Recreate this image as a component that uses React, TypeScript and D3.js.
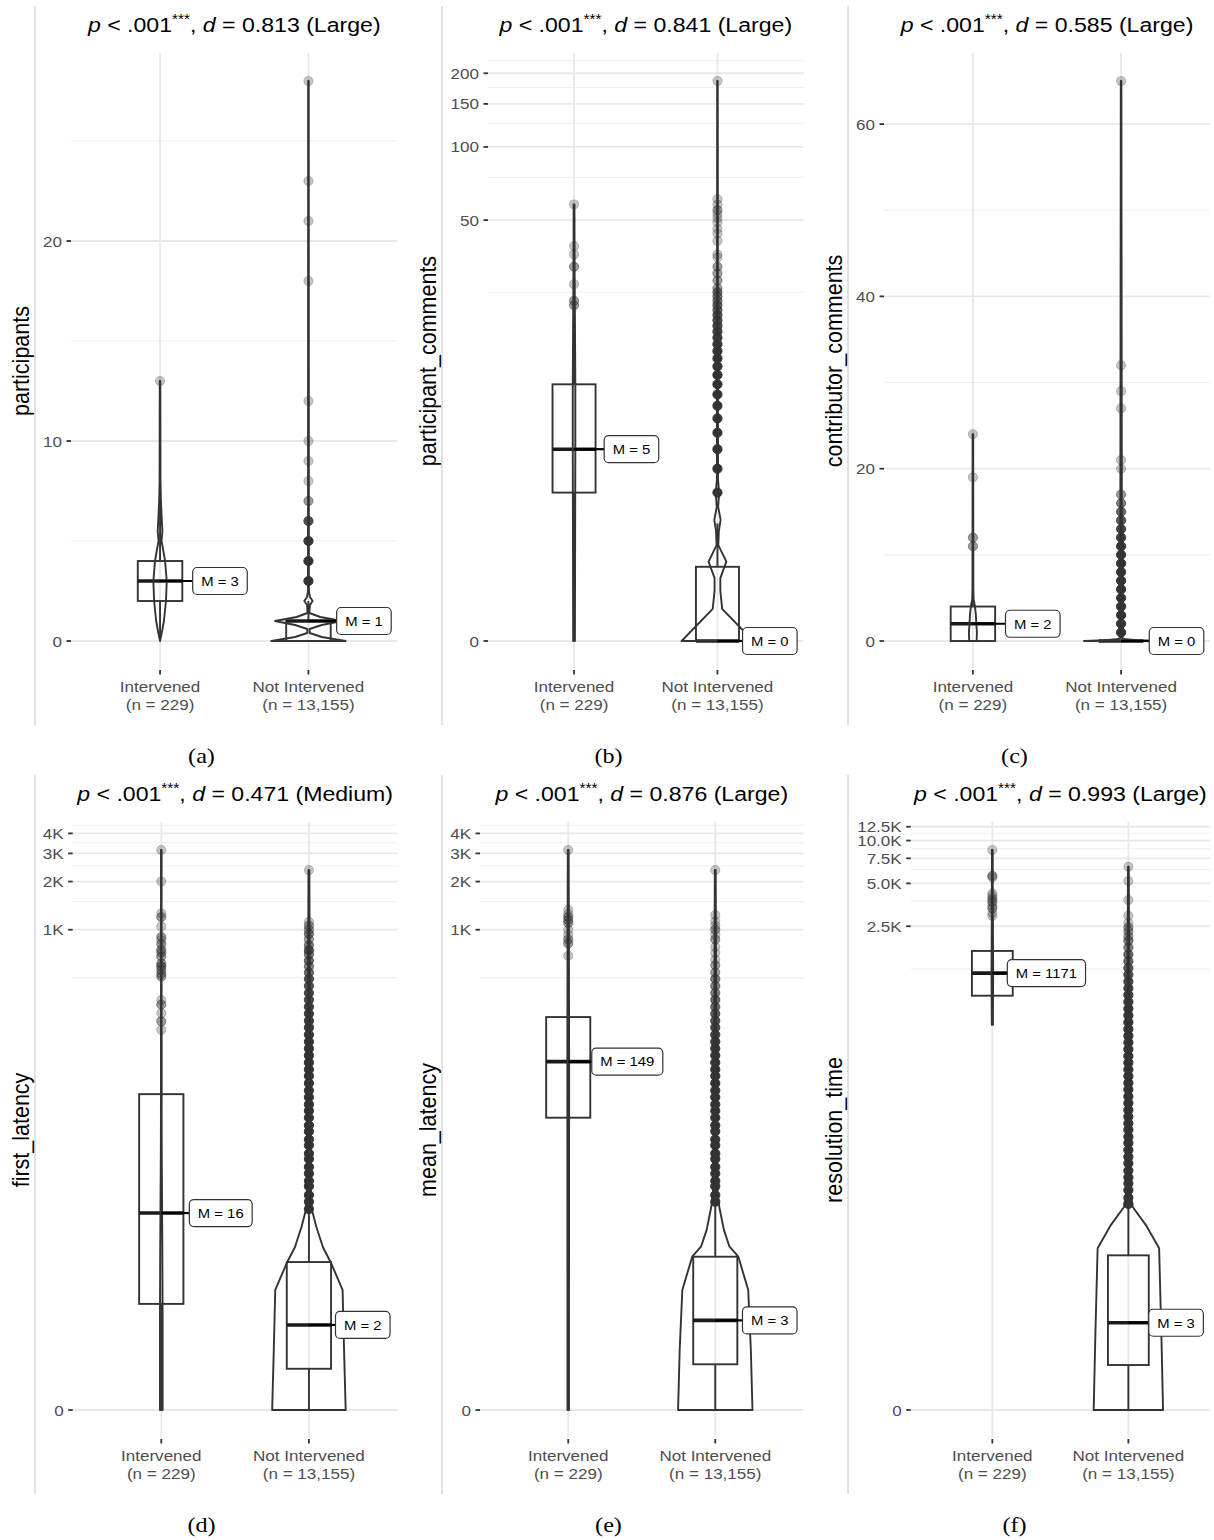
import React, { useEffect, useRef } from "react";
import * as d3 from "d3";

type Pair = [number, number];

const W = 1214;
const H = 1540;

// ---- data ----
const categories = ["Intervened", "Not Intervened"];
const groupSizes = ["(n = 229)", "(n = 13,155)"];
const measures = [
  "participants",
  "participant_comments",
  "contributor_comments",
  "first_latency",
  "mean_latency",
  "resolution_time",
];
const cohensD = ["0.813", "0.841", "0.585", "0.471", "0.876", "0.993"];
const effectSizes = ["Large", "Large", "Large", "Medium", "Large", "Large"];
const panelTags = ["(a)", "(b)", "(c)", "(d)", "(e)", "(f)"];
const scaleTypes = ["linear", "log1p", "linear", "log1p", "log1p", "log1p"];

const majorTicks = [
  [0, 10, 20],
  [0, 50, 100, 150, 200],
  [0, 20, 40, 60],
  [0, 1000, 2000, 3000, 4000],
  [0, 1000, 2000, 3000, 4000],
  [0, 2500, 5000, 7500, 10000, 12500],
];
const majorTickLabels = [
  ["0", "10", "20"],
  ["0", "50", "100", "150", "200"],
  ["0", "20", "40", "60"],
  ["0", "1K", "2K", "3K", "4K"],
  ["0", "1K", "2K", "3K", "4K"],
  ["0", "2.5K", "5.0K", "7.5K", "10.0K", "12.5K"],
];
const minorTicks = [
  [5, 15, 25],
  [25, 75, 125, 175, 225],
  [10, 30, 50],
  [500, 1500, 2500, 3500, 4500],
  [500, 1500, 2500, 3500, 4500],
  [1250, 3750, 6250, 8750, 11250],
];
const medianLabels = [
  ["M = 3", "M = 1"],
  ["M = 5", "M = 0"],
  ["M = 2", "M = 0"],
  ["M = 16", "M = 2"],
  ["M = 149", "M = 3"],
  ["M = 1171", "M = 3"],
];

// box stats: [lower whisker, q1, median, q3, upper whisker] for Intervened / Not Intervened
const participantsBox = [[0, 2, 3, 4, 7], [0, 0, 1, 1, 2]];
const participantCommentsBox = [[0, 3, 5, 10, 20], [0, 0, 0, 1, 2]];
const contributorCommentsBox = [[0, 0, 2, 4, 10], [0, 0, 0, 0, 0]];
const firstLatencyBox = [[0, 3.6, 16, 93, 227], [0, 0.81, 2.4, 7.4, 17]];
const meanLatencyBox = [[0, 66, 149, 284, 600], [0, 0.93, 2.63, 8.07, 18]];
const resolutionTimeBox = [[506, 812, 1171, 1676, 2900], [0, 1.07, 3.1, 11.2, 26]];

// violin profiles: [value, half width as share of category step]
const participantsViolin: Pair[][] = [
  [[0, 0], [0.5, 0.014], [1, 0.026], [2, 0.04], [3, 0.045], [4, 0.034], [4.6, 0.02], [5, 0.01], [5.5, 0.016], [6, 0.012], [7, 0.006], [8, 0.003], [13, 0.002]],
  [[0, 0.25], [0.2, 0.09], [0.4, 0.008], [0.6, 0.008], [0.8, 0.09], [1, 0.225], [1.2, 0.08], [1.4, 0.006], [1.8, 0.01], [2, 0.028], [2.2, 0.01], [2.5, 0.003], [28, 0.002]],
];
const participantCommentsViolin: Pair[][] = [
  [[0, 0.006], [5, 0.009], [10, 0.009], [20, 0.006], [30, 0.004], [58, 0.003]],
  [[0, 0.25], [0.35, 0.033], [0.6, 0.02], [0.8, 0.02], [1.1, 0.062], [1.45, 0.006], [1.8, 0.01], [2.1, 0.022], [2.5, 0.005], [3, 0.012], [3.5, 0.004], [186, 0.002]],
];
const contributorCommentsViolin: Pair[][] = [
  [[0, 0.025], [1, 0.027], [2, 0.023], [3, 0.02], [4, 0.014], [4.8, 0.005], [6, 0.003], [24, 0.002]],
  [[0, 0.25], [0.1, 0.11], [0.2, 0.03], [0.35, 0.006], [65, 0.002]],
];
const firstLatencyViolin: Pair[][] = [
  [[0, 0.009], [3, 0.009], [10, 0.007], [41, 0.003], [100, 0.002], [3150, 0.002]],
  [[0, 0.249], [1.37, 0.238], [4.62, 0.228], [7.25, 0.151], [9.4, 0.095], [12.95, 0.05], [16.7, 0.021], [25, 0.01], [2360, 0.003]],
];
const meanLatencyViolin: Pair[][] = [
  [[0, 0.005], [149, 0.006], [600, 0.005], [3150, 0.003]],
  [[0, 0.253], [1.37, 0.242], [4.62, 0.224], [8.07, 0.157], [9.47, 0.097], [12.3, 0.059], [17.6, 0.027], [25, 0.01], [2360, 0.003]],
];
const resolutionTimeViolin: Pair[][] = [
  [[506, 0.004], [1171, 0.006], [2900, 0.004], [8580, 0.003]],
  [[0, 0.255], [2.27, 0.243], [12.7, 0.226], [18.9, 0.129], [25.8, 0.031], [35, 0.012], [6550, 0.003]],
];

// outliers: [value, count]
const participantsOutliers: Pair[][] = [
  [[13, 1]],
  [[3, 40], [4, 20], [5, 12], [6, 6], [7, 2], [8, 1], [9, 1], [10, 1], [12, 1], [18, 1], [21, 1], [23, 1], [28, 1]],
];
const participantCommentsOutliers: Pair[][] = [
  [[22, 2], [23, 2], [27, 1], [32, 2], [36, 1], [39, 1], [58, 1]],
  [[3, 400], [4, 250], [5, 160], [6, 110], [7, 80], [8, 60], [9, 45], [10, 35], [11, 28], [12, 22], [13, 18], [14, 15], [15, 12], [16, 10], [17, 8], [18, 7], [19, 6], [20, 5], [21, 4], [22, 4], [23, 3], [24, 3], [25, 3], [26, 2], [28, 2], [30, 2], [32, 2], [35, 1], [36, 1], [41, 1], [44, 1], [46, 1], [49, 1], [51, 1], [53, 1], [55, 2], [58, 1], [61, 1], [186, 1]],
];
const contributorCommentsOutliers: Pair[][] = [
  [[11, 2], [12, 2], [19, 1], [24, 1]],
  [[1, 600], [2, 300], [3, 180], [4, 120], [5, 80], [6, 55], [7, 40], [8, 30], [9, 22], [10, 16], [11, 12], [12, 9], [13, 7], [14, 5], [15, 4], [16, 3], [17, 2], [20, 1], [21, 1], [27, 1], [29, 1], [32, 1], [65, 1]],
];
const firstLatencyOutliers: Pair[][] = [
  [[236, 1], [267, 2], [300, 1], [340, 2], [363, 1], [510, 2], [530, 2], [560, 2], [590, 3], [616, 2], [680, 2], [720, 2], [750, 2], [813, 2], [862, 1], [900, 2], [1047, 1], [1200, 2], [1267, 1], [2000, 1], [3150, 1]],
  [[17, 200], [19, 180], [21, 160], [24, 150], [26, 140], [29, 120], [32, 110], [36, 100], [39, 90], [44, 80], [48, 70], [54, 60], [59, 55], [66, 50], [73, 45], [80, 40], [89, 36], [98, 32], [109, 28], [121, 25], [133, 22], [147, 20], [163, 18], [180, 16], [199, 14], [220, 12], [244, 11], [269, 10], [298, 9], [329, 8], [364, 7], [402, 7], [445, 6], [492, 6], [540, 4], [590, 3], [640, 4], [700, 3], [745, 5], [800, 3], [870, 2], [940, 3], [1000, 2], [1060, 2], [1120, 1], [2360, 1]],
];
const meanLatencyOutliers: Pair[][] = [
  [[687, 1], [820, 2], [870, 2], [930, 1], [1000, 1], [1100, 2], [1150, 2], [1200, 2], [1250, 1], [1330, 1], [3150, 1]],
  [[19, 250], [21, 220], [24, 200], [26, 180], [29, 160], [32, 140], [36, 120], [39, 110], [44, 100], [48, 90], [54, 80], [59, 70], [66, 60], [73, 50], [80, 45], [89, 40], [98, 35], [109, 30], [121, 26], [133, 22], [147, 18], [163, 15], [180, 12], [199, 10], [220, 8], [244, 7], [269, 6], [298, 5], [329, 4], [364, 4], [402, 3], [445, 3], [492, 3], [540, 2], [600, 2], [650, 1], [715, 1], [780, 1], [870, 2], [930, 1], [1000, 2], [1060, 1], [1130, 1], [1235, 1], [2360, 1]],
];
const resolutionTimeOutliers: Pair[][] = [
  [[2950, 1], [3100, 1], [3350, 2], [3500, 1], [3700, 2], [3900, 2], [4100, 1], [4250, 1], [5500, 1], [5650, 2], [8580, 1]],
  [[27, 300], [30, 280], [34, 260], [38, 240], [42, 220], [47, 200], [53, 190], [59, 180], [66, 170], [74, 160], [82, 150], [92, 140], [102, 130], [114, 120], [127, 110], [142, 100], [158, 90], [177, 80], [197, 70], [220, 60], [245, 55], [274, 50], [305, 45], [341, 40], [380, 35], [424, 30], [473, 26], [528, 22], [590, 18], [658, 15], [735, 12], [820, 10], [915, 8], [1020, 7], [1140, 6], [1270, 5], [1420, 4], [1580, 4], [1770, 3], [1980, 3], [2120, 2], [2300, 2], [2450, 2], [2640, 1], [2960, 1], [3820, 1], [5200, 1], [6550, 1]],
];

const boxes = [participantsBox, participantCommentsBox, contributorCommentsBox, firstLatencyBox, meanLatencyBox, resolutionTimeBox];
const violins = [participantsViolin, participantCommentsViolin, contributorCommentsViolin, firstLatencyViolin, meanLatencyViolin, resolutionTimeViolin];
const outliers = [participantsOutliers, participantCommentsOutliers, contributorCommentsOutliers, firstLatencyOutliers, meanLatencyOutliers, resolutionTimeOutliers];

// ---- layout ----
const SX = 1.1; // source figure is slightly wider than tall
const FONT = "'Liberation Sans', Arimo, Arial, Helvetica, sans-serif";
const SERIF = "'Liberation Serif', 'Times New Roman', Times, serif";
const ROW_STEP = 769;
const PLOT_TOP = 53;
const PLOT_BOTTOM = 669;
const BORDER_X = [35, 442, 848];
const RIGHT_X = [397.5, 803.5, 1210];
const LEFT_PAD = [36, 46, 36, 37.7, 38, 62.7];
const LABEL_NUDGE = [[0.22, 0.19], [0.21, 0.175], [0.22, 0.19], [0.19, 0.18], [0.16, 0.185], [0.11, 0.15]];
const INK = "#333333";
const LW = 1.9;

function stretch(sel: any, x: number, y: number) {
  return sel.attr("transform", `translate(${x},${y}) scale(${SX},1)`);
}

function drawPanel(svg: any, i: number) {
  const row = Math.floor(i / 3);
  const col = i % 3;
  const oy = row * ROW_STEP;
  const top = PLOT_TOP + oy;
  const bottom = PLOT_BOTTOM + oy;
  const border = BORDER_X[col];
  const left = border + LEFT_PAD[i];
  const right = RIGHT_X[col];
  const g = svg.append("g");

  const x = d3.scalePoint<string>().domain(categories).range([left, right]).padding(0.6);
  const step = x.step();

  const vals = [
    ...violins[i].flat().map((d) => d[0]),
    ...outliers[i].flat().map((d) => d[0]),
  ];
  const vmin = d3.min(vals) as number;
  const vmax = d3.max(vals) as number;
  let y: any;
  if (scaleTypes[i] === "linear") {
    const pad = (vmax - vmin) * 0.05;
    y = d3.scaleLinear().domain([vmin - pad, vmax + pad]).range([bottom, top]);
  } else {
    const tmin = Math.log1p(vmin);
    const tmax = Math.log1p(vmax);
    const pad = (tmax - tmin) * 0.05;
    const inv = (t: number) => (t < 0 ? -Math.expm1(-t) : Math.expm1(t));
    y = d3.scaleSymlog().constant(1).domain([inv(tmin - pad), inv(tmax + pad)]).range([bottom, top]);
  }

  // left border rule of the sub-figure
  g.append("line")
    .attr("x1", border).attr("x2", border)
    .attr("y1", 6 + oy).attr("y2", 725 + oy)
    .attr("stroke", "#c4c4c4").attr("stroke-width", 1);

  // grid
  g.selectAll(".minor").data(minorTicks[i]).join("line")
    .attr("x1", left).attr("x2", right)
    .attr("y1", (d: number) => y(d)).attr("y2", (d: number) => y(d))
    .attr("stroke", "#efefef").attr("stroke-width", 1.1);
  g.selectAll(".major").data(majorTicks[i]).join("line")
    .attr("x1", left).attr("x2", right)
    .attr("y1", (d: number) => y(d)).attr("y2", (d: number) => y(d))
    .attr("stroke", "#e8e8e8").attr("stroke-width", 1.8);
  g.selectAll(".vgrid").data(categories).join("line")
    .attr("x1", (d: string) => x(d)).attr("x2", (d: string) => x(d))
    .attr("y1", top).attr("y2", bottom)
    .attr("stroke", "#e8e8e8").attr("stroke-width", 1.8);

  // y axis ticks + labels
  majorTicks[i].forEach((t, k) => {
    g.append("line")
      .attr("x1", left - 4.5).attr("x2", left)
      .attr("y1", y(t)).attr("y2", y(t))
      .attr("stroke", INK).attr("stroke-width", 1.8);
    const lab = g.append("text")
      .attr("text-anchor", "end")
      .attr("font-family", FONT).attr("font-size", 15.5)
      .attr("fill", "#4d4d4d")
      .text(majorTickLabels[i][k]);
    stretch(lab, left - 9, y(t) + 5.5);
  });

  // x axis ticks + labels
  categories.forEach((c, k) => {
    const cx = x(c) as number;
    g.append("line")
      .attr("x1", cx).attr("x2", cx)
      .attr("y1", bottom + 1).attr("y2", bottom + 5.5)
      .attr("stroke", INK).attr("stroke-width", 1.8);
    const l1 = g.append("text").attr("text-anchor", "middle")
      .attr("font-family", FONT).attr("font-size", 15.5).attr("fill", "#4d4d4d").text(c);
    stretch(l1, cx, bottom + 23);
    const l2 = g.append("text").attr("text-anchor", "middle")
      .attr("font-family", FONT).attr("font-size", 15.5).attr("fill", "#4d4d4d").text(groupSizes[k]);
    stretch(l2, cx, bottom + 41);
  });

  // axis title
  g.append("text")
    .attr("transform", `translate(${border - 6},${(top + bottom) / 2}) rotate(-90) scale(1,${SX})`)
    .attr("text-anchor", "middle")
    .attr("font-family", FONT).attr("font-size", 21.5).attr("fill", "#000")
    .text(measures[i]);

  // title
  const title = g.append("text")
    .attr("text-anchor", "middle")
    .attr("font-family", FONT).attr("font-size", 21).attr("fill", "#000")
    .style("white-space", "pre");
  stretch(title, (left + right) / 2, 32 + oy);
  title.append("tspan").attr("font-style", "italic").text("p");
  title.append("tspan").text(" < .001");
  title.append("tspan").attr("font-size", 14).attr("dy", -8).text("***");
  title.append("tspan").attr("dy", 8).text(", ");
  title.append("tspan").attr("font-style", "italic").text("d");
  title.append("tspan").text(` = ${cohensD[i]} (${effectSizes[i]})`);

  // caption
  const cap = g.append("text")
    .attr("text-anchor", "middle")
    .attr("font-family", SERIF).attr("font-size", 22).attr("fill", "#000")
    .text(panelTags[i]);
  stretch(cap, border + 166.5, 763 + oy);

  // groups
  categories.forEach((c, k) => {
    const cx = x(c) as number;
    const [lw, q1, med, q3, uw] = boxes[i][k];
    const bw = 0.15 * step;

    // box
    g.append("rect")
      .attr("x", cx - bw).attr("width", 2 * bw)
      .attr("y", y(q3)).attr("height", Math.max(0, y(q1) - y(q3)))
      .attr("fill", "none").attr("stroke", INK).attr("stroke-width", LW);
    g.append("line").attr("x1", cx).attr("x2", cx).attr("y1", y(q3)).attr("y2", y(uw))
      .attr("stroke", INK).attr("stroke-width", LW);
    g.append("line").attr("x1", cx).attr("x2", cx).attr("y1", y(q1)).attr("y2", y(lw))
      .attr("stroke", INK).attr("stroke-width", LW);
    g.append("line").attr("x1", cx - bw).attr("x2", cx + bw).attr("y1", y(med)).attr("y2", y(med))
      .attr("stroke", "#1a1a1a").attr("stroke-width", 3.6);

    // violin
    const prof = violins[i][k];
    const pts: [number, number][] = [
      ...prof.map((d) => [cx + d[1] * step, y(d[0])] as [number, number]),
      ...prof.slice().reverse().map((d) => [cx - d[1] * step, y(d[0])] as [number, number]),
    ];
    g.append("path")
      .attr("d", d3.line()(pts) + "Z")
      .attr("fill", "none").attr("stroke", INK).attr("stroke-width", LW)
      .attr("stroke-linejoin", "round");

    // outlier points
    g.selectAll(null).data(outliers[i][k]).join("circle")
      .attr("cx", cx).attr("cy", (d: Pair) => y(d[0])).attr("r", 4.6)
      .attr("fill", INK).attr("stroke", INK).attr("stroke-width", 1)
      .attr("fill-opacity", (d: Pair) => 1 - Math.pow(0.72, d[1]))
      .attr("stroke-opacity", (d: Pair) => 1 - Math.pow(0.72, d[1]));

    // median label
    const ym = y(med);
    const lx = cx + LABEL_NUDGE[i][k] * step;
    g.append("line").attr("x1", cx).attr("x2", lx).attr("y1", ym).attr("y2", ym)
      .attr("stroke", "#000").attr("stroke-width", 2.2);
    const rect = g.append("rect")
      .attr("x", lx).attr("y", ym - 13.5).attr("height", 27).attr("rx", 4.5)
      .attr("fill", "#fff").attr("stroke", INK).attr("stroke-width", 1.2);
    const txt = g.append("text").attr("text-anchor", "middle")
      .attr("font-family", FONT).attr("font-size", 13.5).attr("fill", "#000")
      .text(medianLabels[i][k]);
    const tw = (txt.node() as SVGTextElement).getComputedTextLength() * SX;
    const bwid = tw + 17;
    rect.attr("width", bwid);
    stretch(txt, lx + bwid / 2, ym + 4.8);
  });
}

const App = () => {
  const ref = useRef<SVGSVGElement>(null);

  useEffect(() => {
    const svg = d3.select(ref.current);
    svg.selectAll("*").remove();
    svg.append("rect").attr("width", W).attr("height", H).attr("fill", "#fff");
    measures.forEach((_, i) => drawPanel(svg, i));
  }, []);

  return (
    <svg
      ref={ref}
      width={W}
      height={H}
      style={{ position: "absolute", left: 0, top: 0 }}
    />
  );
};

export default App;
